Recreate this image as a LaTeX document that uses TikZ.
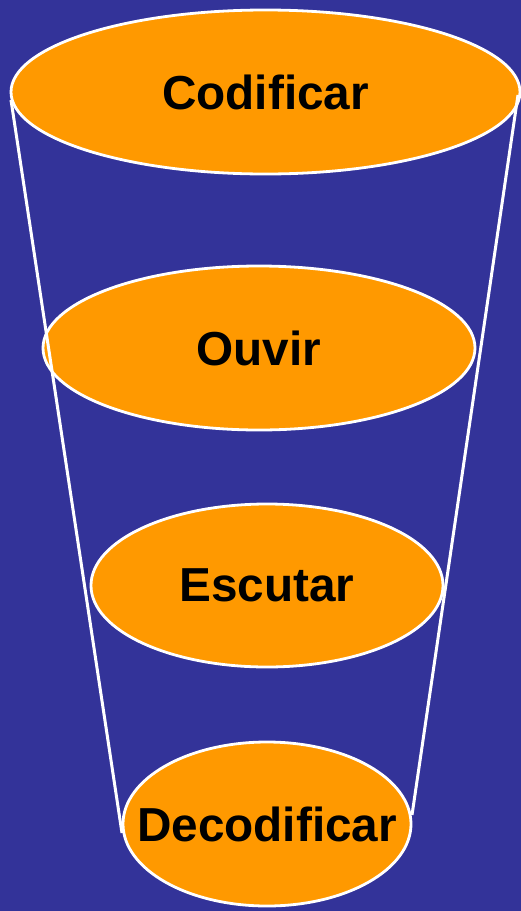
\documentclass[tikz,border=0pt]{standalone}
\usepackage{fontspec}
\setmainfont{Liberation Sans}
\usetikzlibrary{shapes.geometric}
\definecolor{fundo}{HTML}{333399}
\definecolor{laranja}{HTML}{FF9900}

\begin{document}
\begin{tikzpicture}[
  x=1pt, y=-1pt,
  etapa/.style={ellipse, draw=white, line width=2.8pt, fill=laranja, inner sep=0pt},
  rotulo/.style={font=\fontsize{47.7}{50}\selectfont\bfseries, text=black, inner sep=0pt},
  borda/.style={draw=white, line width=3pt}
]

% ---------------- Fundo ----------------
\fill[fundo] (0,0) rectangle (521,911);
\useasboundingbox (0,0) rectangle (521,911);

% ---------------- Etapas ----------------
\node[etapa, minimum width=509, minimum height=164, label={[rotulo]center:Codificar}] (cod) at (265.5,92) {};
\node[etapa, minimum width=432, minimum height=164, label={[rotulo]center:Ouvir}] (ouv) at (259,348) {};
\node[etapa, minimum width=352, minimum height=163, label={[rotulo]center:Escutar}] (esc) at (267,585.5) {};
\node[etapa, minimum width=288, minimum height=164, label={[rotulo]center:Decodificar}] (dec) at (267,824) {};

% ---------------- Funil ----------------
\coordinate (esq1) at (11,100);
\coordinate (esq2) at (122,833);
\coordinate (dir1) at (518,95);
\coordinate (dir2) at (412,815);

\draw[borda] (esq1) -- (esq2);
\draw[borda] (dir1) -- (dir2);

\end{tikzpicture}
\end{document}
